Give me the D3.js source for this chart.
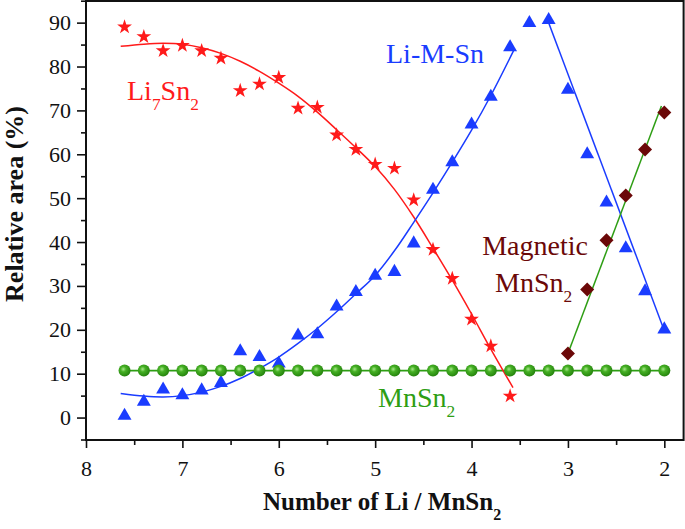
<!DOCTYPE html>
<html><head><meta charset="utf-8">
<script src="https://cdn.jsdelivr.net/npm/d3@7"></script>
<style>body{margin:0;background:#fff} svg{display:block}</style>
</head><body><svg id="c" width="685" height="529"></svg>
<script>
// ---------- data ----------
const xAll = [7.6,7.4,7.2,7.0,6.8,6.6,6.4,6.2,6.0,5.8,5.6,5.4,5.2,5.0,4.8,4.6,4.4,4.2,4.0,3.8,3.6,3.4,3.2,3.0,2.8,2.6,2.4,2.2,2.0];
const mnsn2 = [10.7,10.7,10.7,10.7,10.7,10.7,10.7,10.7,10.7,10.7,10.7,10.7,10.7,10.7,10.7,10.7,10.7,10.7,10.7,10.7,10.7,10.7,10.7,10.7,10.7,10.7,10.7,10.7,10.7];
const liMSn = [0.4,3.6,6.4,5.1,6.2,7.9,15.1,13.8,12.3,18.7,19.0,25.3,28.6,32.3,33.2,39.7,51.9,58.2,66.8,73.1,84.4,89.9,90.6,74.7,60.0,49.0,38.6,28.8,20.1];
const xLi7 = [7.6,7.4,7.2,7.0,6.8,6.6,6.4,6.2,6.0,5.8,5.6,5.4,5.2,5.0,4.8,4.6,4.4,4.2,4.0,3.8,3.6];
const li7Sn2 = [89.0,86.8,83.6,84.8,83.6,81.9,74.5,76.0,77.5,70.5,70.7,64.4,61.1,57.7,56.8,49.6,38.3,31.7,22.4,16.3,4.9];
const xMag = [3.0,2.8,2.6,2.4,2.2,2.0];
const magnetic = [14.6,29.2,40.4,50.6,61.1,69.5];
// fitted curves
const fitLi7X = [7.64,7.4,7.2,7.0,6.8,6.6,6.4,6.2,6.0,5.8,5.6,5.4,5.2,5.0,4.8,4.6,4.4,4.2,4.0,3.8,3.57];
const fitLi7Y = [84.6,85.1,85.3,85.1,84.3,83.0,81.2,78.9,76.2,73.2,69.6,65.6,61.5,57.2,52.0,45.7,38.6,31.3,23.6,15.6,6.8];
const fitUpX = [7.64,7.4,7.2,7.0,6.8,6.6,6.4,6.2,6.0,5.8,5.6,5.4,5.2,5.0,4.8,4.6,4.4,4.2,4.0,3.8,3.56];
const fitUpY = [5.5,4.9,4.7,5.0,5.8,7.1,8.9,11.2,13.8,16.9,20.3,24.1,28.2,32.4,38.0,44.5,51.2,58.2,65.5,73.4,83.8];
const fitDownX = [3.2,2.0];
const fitDownY = [90.0,19.8];
const fitMagX = [3.0,2.03];
const fitMagY = [14.6,71.0];
const xTicks = [8,7,6,5,4,3,2];
const yTicks = [0,10,20,30,40,50,60,70,80,90];

// ---------- layout ----------
const FONT = '"Liberation Serif","Times New Roman",serif';
const svg = d3.select('#c');
const x = d3.scaleLinear().domain([8,1.8]).range([86,683.6]);
const y = d3.scaleLinear().domain([-5,95]).range([439.5,0.7]);
const RED='#ff1a1a', BLUE='#1a3cff', GREEN='#2e9e14', DRED='#6b0808';

// gradient for balls
const defs = svg.append('defs');
const g = defs.append('radialGradient').attr('id','ball').attr('cx','40%').attr('cy','38%').attr('r','65%');
g.append('stop').attr('offset','0%').attr('stop-color','#a8e68a');
g.append('stop').attr('offset','35%').attr('stop-color','#45b024');
g.append('stop').attr('offset','100%').attr('stop-color','#23800c');

// axes
const xAxis = d3.axisBottom(x).tickValues(xTicks).tickSize(8).tickFormat(d3.format('d'));
const xMinor = d3.axisBottom(x).tickValues([7.5,6.5,5.5,4.5,3.5,2.5]).tickSize(5).tickFormat('');
const yAxis = d3.axisLeft(y).tickValues(yTicks).tickSize(9).tickFormat(d3.format('d'));
const yMinor = d3.axisLeft(y).tickValues([-5,5,15,25,35,45,55,65,75,85,95]).tickSize(5).tickFormat('');

function styleAxis(sel){
  sel.select('.domain').remove();
  sel.selectAll('line').attr('stroke','#111').attr('stroke-width',1.6);
  sel.selectAll('text').attr('font-family',FONT).attr('font-size',22).attr('fill','#111');
}
const gx = svg.append('g').attr('transform','translate(0,440)').call(xAxis).call(styleAxis);
gx.selectAll('text').attr('dy',null).attr('y',36);
svg.append('g').attr('transform','translate(0,440)').call(xMinor).call(styleAxis);
const gy = svg.append('g').attr('transform','translate(86,0)').call(yAxis).call(styleAxis);
gy.selectAll('text').attr('x',-15);
svg.append('g').attr('transform','translate(86,0)').call(yMinor).call(styleAxis);

// frame
svg.append('rect').attr('x',86).attr('y',1).attr('width',683.6-86).attr('height',439)
  .attr('fill','none').attr('stroke','#111').attr('stroke-width',2);

// lines
const line = d3.line().x(d=>x(d[0])).y(d=>y(d[1]));
const lineC = d3.line().x(d=>x(d[0])).y(d=>y(d[1])).curve(d3.curveCatmullRom);
const zip = (a,b)=>a.map((v,i)=>[v,b[i]]);
svg.append('path').attr('d',line(zip(xAll,mnsn2))).attr('fill','none').attr('stroke',GREEN).attr('stroke-width',1.8);
svg.append('path').attr('d',lineC(zip(fitLi7X,fitLi7Y))).attr('fill','none').attr('stroke',RED).attr('stroke-width',1.5);
svg.append('path').attr('d',lineC(zip(fitUpX,fitUpY))).attr('fill','none').attr('stroke',BLUE).attr('stroke-width',1.5);
svg.append('path').attr('d',line(zip(fitDownX,fitDownY))).attr('fill','none').attr('stroke',BLUE).attr('stroke-width',1.5);
svg.append('path').attr('d',line(zip(fitMagX,fitMagY))).attr('fill','none').attr('stroke',GREEN).attr('stroke-width',1.5);

// markers
const star = d3.symbol().type(d3.symbolStar).size(68);
svg.append('g').selectAll('path').data(zip(xLi7,li7Sn2)).join('path')
  .attr('d',star).attr('transform',d=>`translate(${x(d[0])},${y(d[1])})`).attr('fill',RED);
const tri = d3.symbol().type(d3.symbolTriangle).size(84);
svg.append('g').selectAll('path').data(zip(xAll,liMSn)).join('path')
  .attr('d',tri).attr('transform',d=>`translate(${x(d[0])},${y(d[1])})`).attr('fill',BLUE);
const dia = d3.symbol().type(d3.symbolSquare).size(98);
svg.append('g').selectAll('path').data(zip(xMag,magnetic)).join('path')
  .attr('d',dia).attr('transform',d=>`translate(${x(d[0])},${y(d[1])}) rotate(45)`).attr('fill',DRED);
svg.append('g').selectAll('circle').data(zip(xAll,mnsn2)).join('circle')
  .attr('cx',d=>x(d[0])).attr('cy',d=>y(d[1])).attr('r',6).attr('fill','url(#ball)');

// labels
function chem(xp, yp, parts, color, size, anchor){
  const tx = svg.append('text').attr('x',xp).attr('y',yp).attr('font-family',FONT)
    .attr('font-size',size).attr('fill',color).attr('text-anchor',anchor||'start');
  parts.forEach(p=>{
    if(p.sub){ tx.append('tspan').attr('dy',10).attr('font-size',size*0.62).text(p.t); }
    else { tx.append('tspan').attr('dy',p.reset?-10:0).text(p.t); }
  });
  return tx;
}
chem(127,100,[{t:'Li'},{t:'7',sub:true},{t:'Sn',reset:true},{t:'2',sub:true}],RED,28);
svg.append('text').attr('x',386).attr('y',63).attr('font-family',FONT).attr('font-size',28).attr('fill',BLUE).text('Li-M-Sn');
svg.append('text').attr('x',535).attr('y',255).attr('text-anchor','middle').attr('font-family',FONT).attr('font-size',28).attr('fill',DRED).text('Magnetic');
chem(495,292,[{t:'MnSn'},{t:'2',sub:true}],DRED,28);
chem(378,407,[{t:'MnSn'},{t:'2',sub:true}],GREEN,28);

// axis titles
const xt = svg.append('text').attr('x',263).attr('y',510).attr('font-family',FONT).attr('font-weight','bold')
  .attr('font-size',25).attr('fill','#111');
xt.append('tspan').text('Number of Li / MnSn');
xt.append('tspan').attr('dy',10).attr('font-size',16).text('2');
svg.append('text').attr('transform','translate(23,204) rotate(-90)').attr('text-anchor','middle')
  .attr('font-family',FONT).attr('font-weight','bold').attr('font-size',26).attr('fill','#111')
  .text('Relative area (%)');
</script></body></html>
